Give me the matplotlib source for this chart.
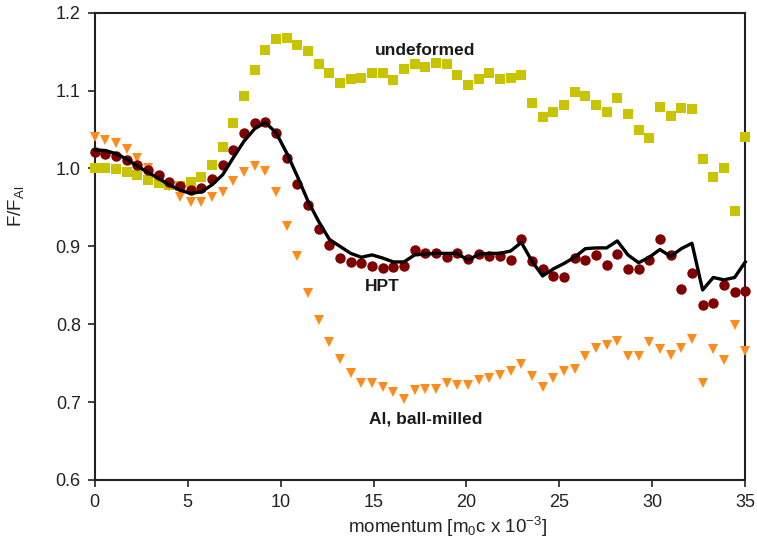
import numpy as np
import matplotlib
matplotlib.use('Agg')
import matplotlib.pyplot as plt

plt.rcParams['font.family'] = ['Liberation Sans', 'DejaVu Sans']
plt.rcParams['mathtext.default'] = 'regular'

# momentum axis, 62 channels from 0 to 35
momentum = np.linspace(0, 35, 62)

undeformed = [
    1.001, 1.000, 0.999, 0.995, 0.991, 0.985, 0.981, 0.979, 0.978, 0.982, 0.989, 1.005, 1.027, 1.059,
    1.093, 1.126, 1.152, 1.166, 1.167, 1.159, 1.151, 1.134, 1.122, 1.110, 1.115,
    1.116, 1.123, 1.122, 1.114, 1.128, 1.134, 1.130, 1.136, 1.134, 1.120, 1.107, 1.115, 1.122,
    1.115, 1.116, 1.120, 1.084, 1.066, 1.072, 1.081, 1.098, 1.093, 1.082, 1.073, 1.090,
    1.070, 1.050, 1.039, 1.079, 1.067, 1.078, 1.077, 1.012, 0.989, 1.001, 0.946, 1.041]

hpt = [
    1.021, 1.019, 1.016, 1.011, 1.004, 0.998, 0.991, 0.983, 0.977, 0.972, 0.975, 0.987,
    1.004, 1.024, 1.046, 1.059, 1.060, 1.046, 1.014, 0.980, 0.953,
    0.922, 0.902, 0.885, 0.880, 0.879, 0.875, 0.872, 0.873, 0.875, 0.895, 0.892, 0.892, 0.886,
    0.891, 0.884, 0.890, 0.888,
    0.887, 0.883, 0.910, 0.881, 0.871, 0.862, 0.861, 0.885, 0.883, 0.889, 0.876, 0.890,
    0.871, 0.871, 0.883, 0.909, 0.889, 0.845, 0.866, 0.825, 0.827, 0.851, 0.841, 0.843]

hpt_line = [
    1.024, 1.023, 1.019, 1.012, 1.003, 0.995, 0.987, 0.979, 0.972, 0.968, 0.970, 0.979,
    0.992, 1.014, 1.035, 1.051, 1.059, 1.046, 1.020, 0.990, 0.958,
    0.932, 0.909, 0.900, 0.891, 0.886, 0.889, 0.885, 0.880, 0.880, 0.889, 0.890, 0.891, 0.891,
    0.891, 0.882, 0.890, 0.891, 0.891, 0.894, 0.905,
    0.881, 0.862, 0.871, 0.878, 0.886, 0.897, 0.898, 0.898, 0.907, 0.889, 0.879,
    0.886, 0.896, 0.887, 0.897, 0.904, 0.844, 0.860, 0.857, 0.860, 0.880]

ball_milled = [
    1.040, 1.037, 1.033, 1.025, 1.014, 1.001, 0.989, 0.977, 0.964, 0.957, 0.957, 0.963,
    0.970, 0.984, 0.995, 1.003, 0.997, 0.970, 0.926, 0.887, 0.840, 0.806, 0.777, 0.756, 0.738,
    0.725, 0.724, 0.719, 0.713, 0.704, 0.715, 0.717, 0.717, 0.725, 0.722, 0.722, 0.728, 0.731,
    0.735, 0.740, 0.749, 0.733, 0.719, 0.731, 0.740, 0.743, 0.759, 0.770, 0.773, 0.779,
    0.759, 0.759, 0.777, 0.768, 0.760, 0.769, 0.781, 0.725, 0.768, 0.754, 0.799, 0.765]

fig = plt.figure(figsize=(7.57, 5.48), dpi=100)
ax = fig.add_axes([0.1251, 0.1241, 0.8594, 0.8527])

ax.plot(momentum, undeformed, 's', color='#c8c400', markersize=6.8,
        markeredgewidth=0, clip_on=False, zorder=3)
ax.plot(momentum, ball_milled, 'v', color='#ff8c1a', markersize=7.8,
        markeredgewidth=0, clip_on=False, zorder=3)
ax.plot(momentum, hpt, 'o', color='#800000', markersize=7.5,
        markeredgewidth=0, clip_on=False, zorder=4)
ax.plot(momentum, hpt_line, '-', color='black', linewidth=2.4,
        clip_on=False, zorder=5)

# curve labels
ax.text(17.8, 1.152, 'undeformed', ha='center', va='center',
        fontsize=12.5, fontweight='bold', color='#1a1a1a')
ax.text(15.5, 0.849, 'HPT', ha='center', va='center',
        fontsize=12.5, fontweight='bold', color='#1a1a1a')
ax.text(17.8, 0.678, 'Al, ball-milled', ha='center', va='center',
        fontsize=12.5, fontweight='bold', color='#1a1a1a')

ax.set_xlim(0, 35)
ax.set_ylim(0.6, 1.2)
ax.set_xticks(np.arange(0, 36, 5))
ax.set_yticks(np.arange(0.6, 1.21, 0.1))
ax.set_yticklabels(['%.1f' % v for v in np.arange(0.6, 1.21, 0.1)])
ax.tick_params(direction='out', length=5, width=1.2, labelsize=13,
               colors='#222222', top=False, right=False, pad=5)
for s in ax.spines.values():
    s.set_linewidth(1.5)
    s.set_color('#222222')

ax.set_xlabel('momentum [m$_0$c x 10$^{-3}$]', fontsize=13.5, color='#222222')
ax.set_ylabel('F/F$_{Al}$', fontsize=13.5, color='#222222')
ax.xaxis.set_label_coords(0.543, -0.074)
ax.yaxis.set_label_coords(-0.105, 0.585)

fig.savefig('out.png', dpi=100)
